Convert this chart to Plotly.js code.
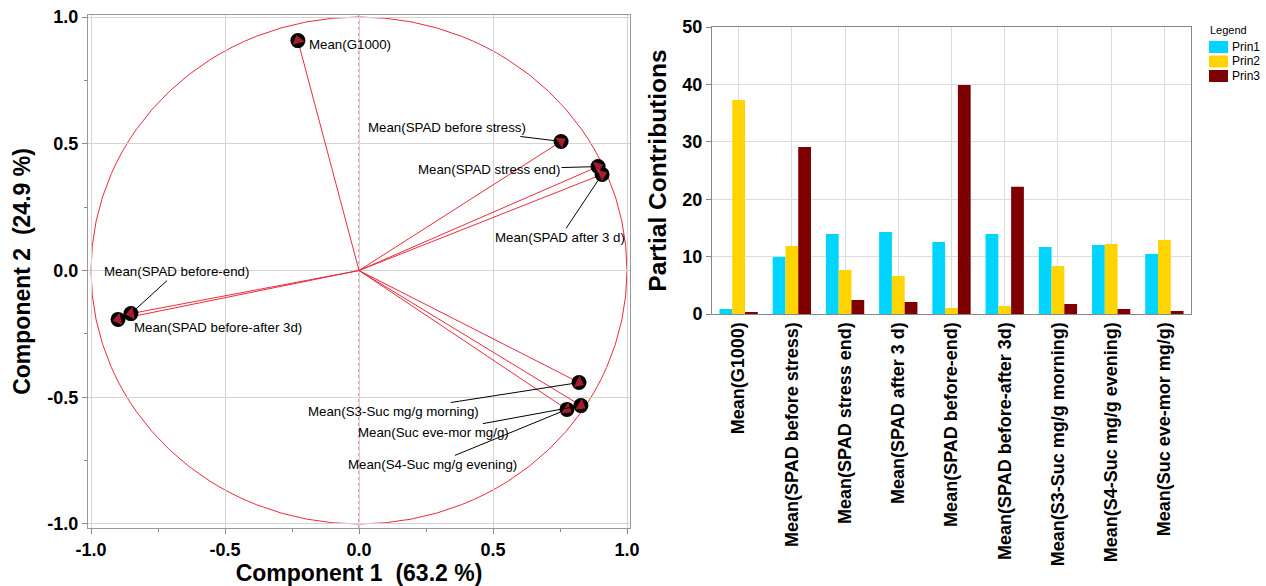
<!DOCTYPE html>
<html><head><meta charset="utf-8">
<script src="https://cdn.plot.ly/plotly-3.0.1.min.js"></script>
<style>html,body{margin:0;padding:0;background:#fff}#c{width:1266px;height:586px}</style>
</head><body><div id="c"></div>
<script>
// Loading plot data
const varNames = ["Mean(G1000)","Mean(SPAD before stress)","Mean(SPAD stress end)","Mean(SPAD after 3 d)","Mean(SPAD before-end)","Mean(SPAD before-after 3d)","Mean(S3-Suc mg/g morning)","Mean(Suc eve-mor mg/g)","Mean(S4-Suc mg/g evening)"];
const comp1 = [-0.228, 0.754, 0.892, 0.907, -0.851, -0.899, 0.821, 0.828, 0.776];
const comp2 = [0.907, 0.509, 0.410, 0.379, -0.170, -0.193, -0.442, -0.533, -0.548];

// Partial contributions data
const barCats = ["Mean(G1000)","Mean(SPAD before stress)","Mean(SPAD stress end)","Mean(SPAD after 3 d)","Mean(SPAD before-end)","Mean(SPAD before-after 3d)","Mean(S3-Suc mg/g morning)","Mean(S4-Suc mg/g evening)","Mean(Suc eve-mor mg/g)"];
const seriesNames = ["Prin1","Prin2","Prin3"];
const prin1 = [0.87, 9.94, 13.95, 14.3, 12.56, 13.95, 11.69, 12.03, 10.47];
const prin2 = [37.3, 11.86, 7.67, 6.63, 1.05, 1.40, 8.37, 12.2, 12.9];
const prin3 = [0.35, 29.1, 2.44, 2.09, 39.9, 22.15, 1.74, 0.87, 0.52];
const seriesColors = ['#00d4ff', '#ffd400', '#7f0000'];

// label placement (pixel offsets of label centre from point)
const labelOffsets = [
  {ax:52, ay:4, lead:false},
  {ax:-114, ay:-14, lead:true},
  {ax:-109, ay:3, lead:true},
  {ax:-42, ay:63, lead:true},
  {ax:46, ay:-42, lead:true},
  {ax:100, ay:8, lead:false},
  {ax:-186, ay:29, lead:true},
  {ax:-147, ay:27, lead:true},
  {ax:-134, ay:55, lead:true}
];

const RED = '#ee2a3c';
const FONT = 'Arial, "Liberation Sans", sans-serif';
const W = 1266, H = 586;
const px = v => v / W, py = v => 1 - v / H;

// vector segments from origin (origin, tip, gap)
const vx = [], vy = [], tipSize = [];
comp1.forEach((c, i) => { vx.push(0, c, null); vy.push(0, comp2[i], null); tipSize.push(0, 11, 0); });

const traces = [];
traces.push({type:'scatter', mode:'lines', x:vx, y:vy, xaxis:'x', yaxis:'y',
  line:{color:RED, width:1}, showlegend:false, hoverinfo:'skip'});
traces.push({type:'scatter', mode:'markers', x: comp1, y: comp2, xaxis:'x', yaxis:'y',
  marker:{color:'#000', size:15}, showlegend:false, hoverinfo:'text', text: varNames});
traces.push({type:'scatter', mode:'markers', x: vx, y: vy, xaxis:'x', yaxis:'y',
  marker:{color:RED, size:tipSize, symbol:'triangle-up', angleref:'previous', line:{width:0}},
  showlegend:false, hoverinfo:'skip'});
[prin1, prin2, prin3].forEach((vals, k) => {
  traces.push({type:'bar', name:seriesNames[k], x:barCats, y:vals, xaxis:'x2', yaxis:'y2',
    marker:{color:seriesColors[k]}, showlegend:false});
});

const annotations = [];
const LBL = {family:FONT, size:13.3, color:'#000'};
for (let i = 0; i < varNames.length; i++) {
  const o = labelOffsets[i];
  if (o.lead) {
    annotations.push({
      x: comp1[i], y: comp2[i], xref:'x', yref:'y', ax:o.ax, ay:o.ay,
      text: varNames[i], showarrow:true, arrowhead:0, arrowwidth:1, arrowcolor:'#000',
      standoff:7, font:LBL
    });
  } else {
    annotations.push({
      x: comp1[i], y: comp2[i], xref:'x', yref:'y', xshift:o.ax, yshift:-o.ay,
      text: varNames[i], showarrow:false, font:LBL
    });
  }
}

const shapes = [
  {type:'circle', xref:'x', yref:'y', x0:-1, y0:-1, x1:1, y1:1, line:{color:RED, width:1}, layer:'below'},
  {type:'line', xref:'x', yref:'y domain', x0:0, x1:0, y0:0, y1:1, line:{color:RED, width:1, dash:'dot'}, layer:'below'},
  {type:'line', xref:'x domain', yref:'y', x0:0, x1:1, y0:0, y1:0, line:{color:RED, width:1, dash:'dot'}, layer:'below'}
];
// legend (JMP style)
annotations.push({xref:'paper', yref:'paper', x:px(1208), y:py(30), xanchor:'left', yanchor:'middle',
  text:'Legend', showarrow:false, font:{family:FONT, size:11, color:'#000'}});
seriesNames.forEach((nm, k) => {
  const cy = 47 + 14.5 * k;
  shapes.push({type:'rect', xref:'paper', yref:'paper', x0:px(1209), x1:px(1228), y0:py(cy+6), y1:py(cy-6),
    fillcolor:seriesColors[k], line:{width:0}});
  annotations.push({xref:'paper', yref:'paper', x:px(1230), y:py(cy), xanchor:'left', yanchor:'middle',
    text:nm, showarrow:false, font:{family:FONT, size:12, color:'#000'}});
});

const layout = {
  width: W, height: H, margin:{l:0,r:0,t:0,b:0},
  paper_bgcolor:'#fff', plot_bgcolor:'#fff',
  font:{family:FONT, color:'#000'},
  showlegend:false,
  barmode:'group', bargap:0.28, bargroupgap:0,
  xaxis:{domain:[px(88), px(630)], range:[-1.0112, 1.0112], anchor:'y',
    tickvals:[-1,-0.5,0,0.5,1], ticktext:['-1.0','-0.5','0.0','0.5','1.0'],
    ticks:'outside', ticklen:5, tickcolor:'#888',
    minor:{tickvals:[-0.75,-0.25,0.25,0.75], ticks:'outside', ticklen:3, tickcolor:'#888', showgrid:false},
    showgrid:true, gridcolor:'#d4d4d4', zeroline:false,
    showline:true, mirror:true, linecolor:'#999', linewidth:1,
    tickfont:{size:18, family:FONT, weight:'bold'},
    title:{text:'Component 1 \u00a0(63.2 %)', font:{size:23, family:FONT, weight:'bold'}, standoff:4}},
  yaxis:{domain:[py(528), py(15)], range:[-1.0158, 1.0079], anchor:'x',
    tickvals:[-1,-0.5,0,0.5,1], ticktext:['-1.0','-0.5','0.0','0.5','1.0'],
    ticks:'outside', ticklen:5, tickcolor:'#888',
    minor:{tickvals:[-0.75,-0.25,0.25,0.75], ticks:'outside', ticklen:3, tickcolor:'#888', showgrid:false},
    showgrid:true, gridcolor:'#d4d4d4', zeroline:false,
    showline:true, mirror:true, linecolor:'#999', linewidth:1,
    tickfont:{size:18, family:FONT, weight:'bold'},
    title:{text:'Component 2 \u00a0(24.9 %)', font:{size:23, family:FONT, weight:'bold'}, standoff:10}},
  xaxis2:{domain:[px(712), px(1191)], anchor:'y2', type:'category',
    tickangle:-90, tickfont:{size:18, family:FONT, weight:'bold'},
    showgrid:true, gridcolor:'#dcdcdc', ticks:'',
    showline:true, mirror:true, linecolor:'#888', linewidth:1},
  yaxis2:{domain:[py(314), py(27)], anchor:'x2', range:[0,50], dtick:10,
    showgrid:true, gridcolor:'#dcdcdc', zeroline:false,
    ticks:'outside', ticklen:5, tickcolor:'#888',
    showline:true, mirror:true, linecolor:'#888', linewidth:1,
    tickfont:{size:18, family:FONT, weight:'bold'},
    title:{text:'Partial Contributions', font:{size:24.5, family:FONT, weight:'bold'}, standoff:8}},
  shapes: shapes,
  annotations: annotations
};

Plotly.newPlot('c', traces, layout, {displayModeBar:false, staticPlot:true});
</script>
</body></html>
